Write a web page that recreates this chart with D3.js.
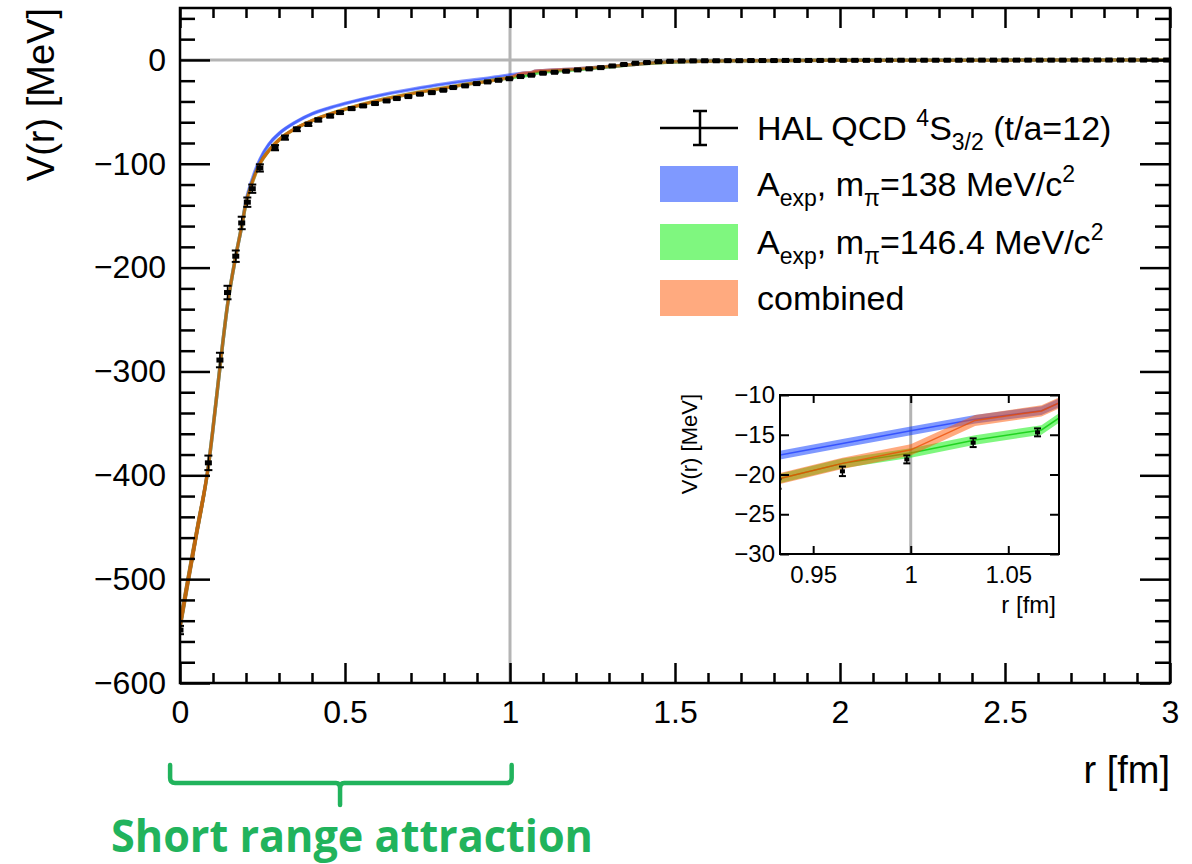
<!DOCTYPE html>
<html>
<head>
<meta charset="utf-8">
<script src="https://cdn.jsdelivr.net/npm/d3@7"></script>
<style>
  body { margin: 0; background: #fff; }
  svg { display: block; }
  text { font-family: "Liberation Sans", Arial, Helvetica, sans-serif; }
</style>
</head>
<body>
<svg id="chart"></svg>
<script>
// HAL QCD points: [r (fm), V (MeV), error]
let halPoints = [
  [0, -549, 4], [0.086, -388, 7], [0.121, -289, 7], [0.144, -224, 6.5], [0.169, -189, 5.5],
  [0.187, -157, 6], [0.204, -137, 4.5], [0.219, -124, 4], [0.242, -104, 3.5], [0.288, -84.5, 2.5],
  [0.318, -74.8, 2], [0.354, -66.8, 1.8], [0.389, -62, 1.5], [0.419, -57.8, 1.4], [0.455, -54, 1.3],
  [0.485, -50.7, 1.2], [0.52, -46.9, 1.1], [0.555, -44.3, 1], [0.591, -42, 1], [0.626, -39.5, 0.9],
  [0.657, -37.2, 0.9], [0.692, -35.3, 0.8], [0.727, -33, 0.8], [0.763, -31.5, 0.8], [0.798, -29.2, 0.7],
  [0.828, -26.6, 0.7], [0.864, -25, 0.7], [0.899, -22.8, 0.6], [0.932, -21.2, 0.6], [0.965, -19.6, 0.6],
  [0.998, -18.1, 0.5], [1.032, -16.0, 0.55], [1.065, -14.7, 0.5], [1.1, -12.8, 0.5], [1.135, -11.9, 0.5],
  [1.17, -10.9, 0.5], [1.205, -9.6, 0.5], [1.24, -8.6, 0.5], [1.275, -7.4, 0.5], [1.31, -5.8, 0.5],
  [1.345, -4.4, 0.4], [1.38, -3.2, 0.4], [1.415, -2.5, 0.4], [1.45, -1.6, 0.4], [1.485, -1.3, 0.4],
  [1.52, -1.0, 0.3], [1.555, -0.9, 0.3], [1.59, -0.8, 0.3], [1.625, -0.8, 0.3], [1.66, -0.7, 0.3],
  [1.695, -0.7, 0.3], [1.73, -0.6, 0.3], [1.765, -0.6, 0.3], [1.8, -0.6, 0.3], [1.835, -0.5, 0.3],
  [1.87, -0.5, 0.3], [1.905, -0.5, 0.3], [1.94, -0.5, 0.3], [1.975, -0.4, 0.3], [2.01, -0.4, 0.3],
  [2.045, -0.4, 0.3], [2.08, -0.4, 0.3], [2.115, -0.4, 0.3], [2.15, -0.3, 0.3], [2.185, -0.3, 0.3],
  [2.22, -0.3, 0.3], [2.255, -0.3, 0.3], [2.29, -0.3, 0.3], [2.325, -0.3, 0.3], [2.36, -0.3, 0.3],
  [2.395, -0.2, 0.3], [2.43, -0.2, 0.3], [2.465, -0.2, 0.3], [2.5, -0.2, 0.3], [2.535, -0.2, 0.3],
  [2.57, -0.2, 0.3], [2.605, -0.2, 0.3], [2.64, -0.2, 0.3], [2.675, -0.2, 0.3], [2.71, -0.1, 0.3],
  [2.745, -0.1, 0.3], [2.78, -0.1, 0.3], [2.815, -0.1, 0.3], [2.85, -0.1, 0.3], [2.885, -0.1, 0.3],
  [2.92, -0.1, 0.3], [2.955, -0.1, 0.3], [2.99, -0.1, 0.3]
]

// bands: [r, centre, half width]
let blueBand = [
  [0, -545, 11], [0.02, -509, 11], [0.05, -456, 10], [0.086, -391, 8], [0.1, -355, 7],
  [0.121, -296, 5], [0.144, -236, 4.5], [0.169, -189, 4], [0.187, -160, 3.5], [0.2, -136, 3],
  [0.22, -114, 2.5], [0.242, -96, 2.2], [0.27, -81, 2], [0.3, -71, 1.8], [0.35, -60, 1.5],
  [0.4, -52, 1.3], [0.45, -46.5, 1.1], [0.5, -42, 1.0], [0.6, -34.5, 0.9], [0.7, -28.5, 0.8],
  [0.8, -23.2, 0.7], [0.9, -18.9, 0.6], [0.933, -17.55, 0.55], [0.965, -16.1, 0.55], [1.0, -14.5, 0.55],
  [1.033, -13.05, 0.55], [1.067, -11.97, 0.55], [1.076, -11.0, 0.55], [1.1, -10.4, 0.5], [1.2, -8.8, 0.5],
  [1.3, -6.4, 0.4], [1.4, -3.6, 0.3], [1.5, -1.8, 0.3], [1.7, -0.8, 0.2], [2.0, -0.4, 0.2],
  [2.5, -0.2, 0.1], [3.0, -0.1, 0.1]
]
let greenBand = [
  [0, -545, 11], [0.02, -509, 11], [0.05, -456, 10], [0.086, -391, 8], [0.1, -355, 7],
  [0.121, -296, 5.5], [0.144, -236, 4.5], [0.169, -189, 4], [0.187, -160, 3.5], [0.2, -138, 3.2],
  [0.22, -117, 2.8], [0.242, -100, 2.4], [0.27, -87, 2.1], [0.3, -77, 1.8], [0.35, -66, 1.6],
  [0.4, -58.5, 1.4], [0.45, -52.5, 1.2], [0.5, -47.5, 1.1], [0.6, -39, 1.0], [0.7, -32.5, 0.9],
  [0.8, -27, 0.8], [0.9, -22, 0.7], [0.933, -20.5, 0.6], [0.965, -18.6, 0.6], [1.0, -17.3, 0.6],
  [1.033, -15.66, 0.6], [1.067, -14.4, 0.6], [1.076, -12.9, 0.6], [1.1, -11.8, 0.6], [1.2, -9.4, 0.5],
  [1.3, -6.6, 0.4], [1.4, -3.7, 0.3], [1.5, -1.9, 0.3], [1.7, -0.8, 0.2], [2.0, -0.4, 0.2],
  [2.5, -0.2, 0.1], [3.0, -0.1, 0.1]
]
let combinedBand = [
  [0, -545, 12], [0.02, -509, 12], [0.05, -456, 11], [0.086, -391, 9], [0.1, -355, 8],
  [0.121, -296, 6], [0.144, -236, 5], [0.169, -189, 4.5], [0.187, -160, 4], [0.2, -138, 3.5],
  [0.22, -117, 3], [0.242, -100, 2.6], [0.27, -87, 2.3], [0.3, -77, 2], [0.35, -66, 1.8],
  [0.4, -58.5, 1.6], [0.45, -52.5, 1.4], [0.5, -47.5, 1.3], [0.6, -39, 1.1], [0.7, -32.5, 1.0],
  [0.8, -27, 0.9], [0.9, -22, 0.8], [0.933, -20.5, 0.7], [0.965, -18.6, 0.7], [1.0, -16.9, 0.7],
  [1.033, -13.2, 0.7], [1.067, -12.0, 0.7], [1.076, -11.0, 0.7], [1.1, -10.4, 0.6], [1.2, -8.8, 0.5],
  [1.3, -6.4, 0.4], [1.4, -3.6, 0.3], [1.5, -1.8, 0.3], [1.7, -0.8, 0.2], [2.0, -0.4, 0.2],
  [2.5, -0.2, 0.1], [3.0, -0.1, 0.1]
]

let xTicks = [0, 0.5, 1, 1.5, 2, 2.5, 3]
let yTicks = [0, -100, -200, -300, -400, -500, -600]
let insetXTicks = [0.95, 1, 1.05]
let insetYTicks = [-10, -15, -20, -25, -30]

let series = [
  {key: "blue", data: blueBand, fill: "rgb(0,51,255)", line: "rgb(30,60,255)"},
  {key: "green", data: greenBand, fill: "rgb(0,240,0)", line: "rgb(0,200,0)"},
  {key: "comb", data: combinedBand, fill: "rgb(255,85,0)", line: "rgb(235,75,0)"}
]

let width = 1192
let height = 864
let pLeft = 180, pRight = 1170, pTop = 8, pBottom = 683

let svg = d3.select("#chart").attr("width", width).attr("height", height)

let xScale = d3.scaleLinear().domain([0, 3]).range([pLeft, pRight])
let yScale = d3.scaleLinear().domain([-600, 50]).range([pBottom, pTop])

let defs = svg.append("defs")
defs.append("clipPath").attr("id", "mainClip")
    .append("rect").attr("x", pLeft).attr("y", pTop).attr("width", pRight - pLeft).attr("height", pBottom - pTop)

let fmt = d3.format("~g")

let drawFrame = (g, xs, ys, opt) => {
  let [x0, x1] = xs.range()
  let [y1, y0] = ys.range()
  // bottom
  g.append("g").attr("transform", "translate(0," + y1 + ")")
   .call(d3.axisBottom(xs).tickValues(opt.xMinor).tickSize(-opt.xMinorLen).tickFormat(""))
  g.append("g").attr("class", "xlab").attr("transform", "translate(0," + y1 + ")")
   .call(d3.axisBottom(xs).tickValues(opt.xMajor).tickSize(-opt.xMajorLen).tickFormat(fmt))
  // top
  g.append("g").attr("transform", "translate(0," + y0 + ")")
   .call(d3.axisTop(xs).tickValues(opt.xMinor).tickSize(-opt.xMinorLen).tickFormat(""))
  g.append("g").attr("transform", "translate(0," + y0 + ")")
   .call(d3.axisTop(xs).tickValues(opt.xMajor).tickSize(-opt.xMajorLen).tickFormat(""))
  // left
  g.append("g").attr("transform", "translate(" + x0 + ",0)")
   .call(d3.axisLeft(ys).tickValues(opt.yMinor).tickSize(-opt.yMinorLen).tickFormat(""))
  g.append("g").attr("class", "ylab").attr("transform", "translate(" + x0 + ",0)")
   .call(d3.axisLeft(ys).tickValues(opt.yMajor).tickSize(-opt.yMajorLen).tickPadding(opt.yPad).tickFormat(fmt))
  // right
  g.append("g").attr("transform", "translate(" + x1 + ",0)")
   .call(d3.axisRight(ys).tickValues(opt.yMinor).tickSize(-opt.yMinorLen).tickFormat(""))
  g.append("g").attr("transform", "translate(" + x1 + ",0)")
   .call(d3.axisRight(ys).tickValues(opt.yMajor).tickSize(-opt.yMajorLen).tickFormat(""))

  g.selectAll(".domain").remove()
  g.selectAll(".tick line").attr("stroke", "#000").attr("stroke-width", opt.lw)
  g.selectAll("text").attr("font-size", opt.font).attr("fill", "#000")
   .attr("font-family", '"Liberation Sans", Arial, sans-serif')
  g.selectAll(".xlab text").attr("y", opt.xLabY).attr("dy", 0)
  g.append("rect").attr("x", x0).attr("y", y0).attr("width", x1 - x0).attr("height", y1 - y0)
   .attr("fill", "none").attr("stroke", "#000").attr("stroke-width", opt.lw)
}

let drawBands = (g, xs, ys, curve, lineW, lineOp) => {
  series.forEach(s => {
    let area = d3.area().x(d => xs(d[0])).y0(d => ys(d[1] - d[2])).y1(d => ys(d[1] + d[2])).curve(curve)
    let line = d3.line().x(d => xs(d[0])).y(d => ys(d[1])).curve(curve)
    g.append("path").datum(s.data).attr("d", area).attr("fill", s.fill).attr("fill-opacity", 0.5)
    g.append("path").datum(s.data).attr("d", line).attr("fill", "none")
     .attr("stroke", s.line).attr("stroke-opacity", lineOp).attr("stroke-width", lineW)
  })
}

let drawPoints = (g, xs, ys, mw, mh, cap) => {
  let pts = g.selectAll(".pt").data(halPoints).enter().append("g").attr("class", "pt")
  pts.append("line").attr("x1", d => xs(d[0])).attr("x2", d => xs(d[0]))
     .attr("y1", d => ys(d[1] - d[2])).attr("y2", d => ys(d[1] + d[2]))
     .attr("stroke", "#000").attr("stroke-width", 1.5)
  pts.append("line").attr("x1", d => xs(d[0]) - cap).attr("x2", d => xs(d[0]) + cap)
     .attr("y1", d => ys(d[1] - d[2])).attr("y2", d => ys(d[1] - d[2]))
     .attr("stroke", "#000").attr("stroke-width", 2)
  pts.append("line").attr("x1", d => xs(d[0]) - cap).attr("x2", d => xs(d[0]) + cap)
     .attr("y1", d => ys(d[1] + d[2])).attr("y2", d => ys(d[1] + d[2]))
     .attr("stroke", "#000").attr("stroke-width", 2)
  pts.append("rect").attr("x", d => xs(d[0]) - mw / 2).attr("y", d => ys(d[1]) - mh / 2)
     .attr("width", mw).attr("height", mh).attr("fill", "#000")
}

// ---- main plot ----
let main = svg.append("g")
let plot = main.append("g").attr("clip-path", "url(#mainClip)")

plot.append("line").attr("x1", pLeft).attr("x2", pRight).attr("y1", yScale(0)).attr("y2", yScale(0))
    .attr("stroke", "#b4b4b4").attr("stroke-width", 3)
plot.append("line").attr("x1", xScale(1)).attr("x2", xScale(1)).attr("y1", pTop).attr("y2", pBottom)
    .attr("stroke", "#b4b4b4").attr("stroke-width", 3)

drawBands(plot, xScale, yScale, d3.curveMonotoneX, 3.5, 0.55)
drawPoints(plot, xScale, yScale, 7, 5, 4)

drawFrame(main, xScale, yScale, {
  xMajor: xTicks, xMinor: d3.range(0, 3.01, 0.1).filter(v => Math.abs(v * 2 - Math.round(v * 2)) > 1e-6),
  yMajor: yTicks, yMinor: d3.range(-600, 51, 20).filter(v => v % 100 !== 0),
  xMajorLen: 20, xMinorLen: 10, yMajorLen: 30, yMinorLen: 15,
  yPad: 14, xLabY: 40, lw: 2.5, font: 32
})

svg.append("text").attr("transform", "translate(54," + pTop + ") rotate(-90)")
   .attr("text-anchor", "end").attr("font-size", 38).text("V(r) [MeV]")
svg.append("text").attr("x", pRight).attr("y", 783)
   .attr("text-anchor", "end").attr("font-size", 38).text("r [fm]")

// ---- legend ----
let legend = svg.append("g")
let lx0 = 660, lx1 = 738, ltx = 757
let ly = 128
legend.append("line").attr("x1", lx0).attr("x2", lx1).attr("y1", ly).attr("y2", ly)
      .attr("stroke", "#000").attr("stroke-width", 2.5)
legend.append("line").attr("x1", 700).attr("x2", 700).attr("y1", ly - 17).attr("y2", ly + 17)
      .attr("stroke", "#000").attr("stroke-width", 2.5)
;[ly - 17, ly + 17].forEach(yy => legend.append("line").attr("x1", 693).attr("x2", 707)
      .attr("y1", yy).attr("y2", yy).attr("stroke", "#000").attr("stroke-width", 2.5))

let t1 = legend.append("text").attr("x", ltx).attr("y", ly + 12).attr("font-size", 34)
t1.append("tspan").text("HAL QCD ")
t1.append("tspan").attr("font-size", 23).attr("dy", -14).text("4")
t1.append("tspan").attr("dy", 14).text("S")
t1.append("tspan").attr("font-size", 23).attr("dy", 10).text("3/2")
t1.append("tspan").attr("dy", -10).text(" (t/a=12)")

let swatchRows = [
  {y: 184, s: series[0], mass: "138"},
  {y: 242, s: series[1], mass: "146.4"},
  {y: 298, s: series[2], mass: null}
]
swatchRows.forEach(row => {
  legend.append("rect").attr("x", lx0).attr("y", row.y - 18).attr("width", lx1 - lx0).attr("height", 36)
        .attr("fill", row.s.fill).attr("fill-opacity", 0.5)
  let t = legend.append("text").attr("x", ltx).attr("y", row.y + 12).attr("font-size", 34)
  if (row.mass) {
    t.append("tspan").text("A")
    t.append("tspan").attr("font-size", 23).attr("dy", 10).text("exp")
    t.append("tspan").attr("dy", -10).text(", m")
    t.append("tspan").attr("font-size", 23).attr("dy", 10).text("π")
    t.append("tspan").attr("dy", -10).text("=" + row.mass + " MeV/c")
    t.append("tspan").attr("font-size", 23).attr("dy", -14).text("2")
  } else {
    t.text("combined")
  }
})

// ---- inset ----
let ix = d3.scaleLinear().domain([0.933, 1.076]).range([780, 1059])
let iy = d3.scaleLinear().domain([-30, -10]).range([554, 395])
defs.append("clipPath").attr("id", "insetClip")
    .append("rect").attr("x", 780).attr("y", 395).attr("width", 279).attr("height", 159)

let inset = svg.append("g")
inset.append("rect").attr("x", 780).attr("y", 395).attr("width", 279).attr("height", 159).attr("fill", "#fff")
let iplot = inset.append("g").attr("clip-path", "url(#insetClip)")
iplot.append("line").attr("x1", ix(1)).attr("x2", ix(1)).attr("y1", 395).attr("y2", 554)
     .attr("stroke", "#b4b4b4").attr("stroke-width", 3)
drawBands(iplot, ix, iy, d3.curveLinear, 1.5, 0.75)
drawPoints(iplot, ix, iy, 5, 4, 3.5)

drawFrame(inset, ix, iy, {
  xMajor: insetXTicks, xMinor: [],
  yMajor: insetYTicks, yMinor: [],
  xMajorLen: 8, xMinorLen: 0, yMajorLen: 9, yMinorLen: 0,
  yPad: 5, xLabY: 29, lw: 2, font: 24
})
inset.append("text").attr("transform", "translate(697,394) rotate(-90)")
     .attr("text-anchor", "end").attr("font-size", 22).text("V(r) [MeV]")
inset.append("text").attr("x", 1056).attr("y", 613)
     .attr("text-anchor", "end").attr("font-size", 24).text("r [fm]")

// ---- annotation ----
let green = "#21b35c"
let bl = xScale(-0.03), br = xScale(1.005), bc = xScale(0.485)
svg.append("path")
   .attr("d", "M" + bl + ",765 L" + bl + ",778 Q" + bl + ",783 " + (bl + 5) + ",783 L" + (bc - 4) + ",783 Q" + bc + ",783 " + bc + ",788 L" + bc + ",805"
        + " M" + bc + ",788 Q" + bc + ",783 " + (bc + 4) + ",783 L" + (br - 5) + ",783 Q" + br + ",783 " + br + ",778 L" + br + ",765")
   .attr("fill", "none").attr("stroke", green).attr("stroke-width", 4.5).attr("stroke-linecap", "round")
svg.append("text").attr("x", 111).attr("y", 852)
   .style("font-family", '"Open Sans", sans-serif').style("font-weight", "bold")
   .style("font-size", "44px").style("fill", green)
   .attr("textLength", 482).attr("lengthAdjust", "spacingAndGlyphs")
   .text("Short range attraction")
</script>
</body>
</html>
